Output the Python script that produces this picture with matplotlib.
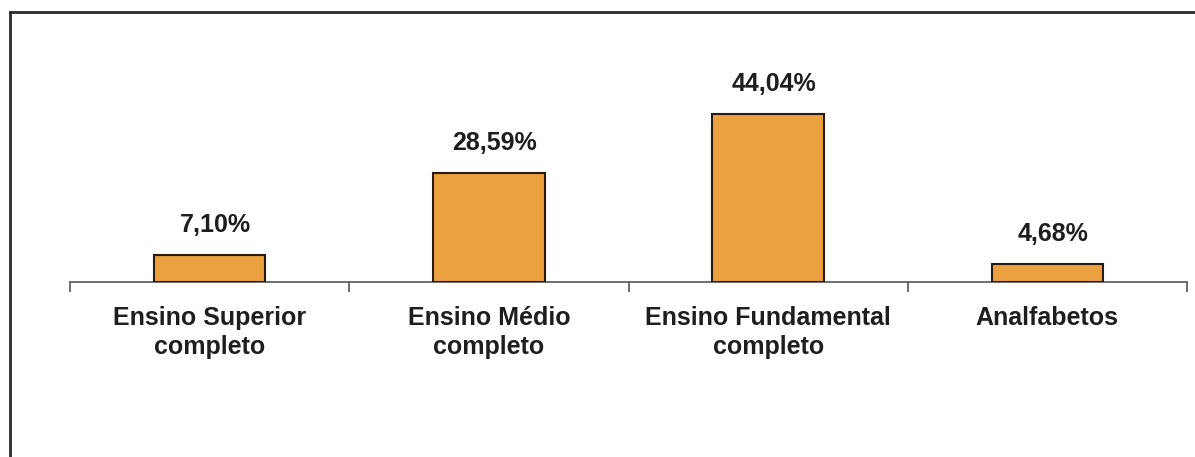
import matplotlib
matplotlib.use('Agg')
import matplotlib.pyplot as plt
from matplotlib.lines import Line2D

categories = ['Ensino Superior\ncompleto', 'Ensino Médio\ncompleto',
              'Ensino Fundamental\ncompleto', 'Analfabetos']
percentages = [7.10, 28.59, 44.04, 4.68]
value_labels = ['7,10%', '28,59%', '44,04%', '4,68%']

plt.rcParams['font.family'] = ['Liberation Sans', 'DejaVu Sans']

fig = plt.figure(figsize=(11.95, 4.57), dpi=100)
fig.patch.set_facecolor('white')

# outer chart frame (top and left edges)
frame_color = '#2b2b2b'
fig.add_artist(Line2D([10 / 1195, 1.0], [1 - 12 / 457, 1 - 12 / 457],
                      transform=fig.transFigure, color=frame_color, lw=2))
fig.add_artist(Line2D([10 / 1195, 10 / 1195], [0.0, 1 - 12 / 457],
                      transform=fig.transFigure, color=frame_color, lw=2))

ax = fig.add_axes([70 / 1195, (457 - 282) / 457, 1117 / 1195, 191 / 457])
x = range(len(categories))
ax.bar(x, percentages, width=0.40, color='#EBA13F', edgecolor='#2a1a10',
       linewidth=1.5, zorder=3)

for xi, val, lab in zip(x, percentages, value_labels):
    ax.annotate(lab, (xi, val), xytext=(4, 13), textcoords='offset points',
                ha='center', va='bottom', fontsize=18, fontweight='bold',
                color='#1e1e1e')

ax.set_xlim(-0.5, len(categories) - 0.5)
ax.set_ylim(0, 50)

for side in ['top', 'right', 'left']:
    ax.spines[side].set_visible(False)
ax.spines['bottom'].set_color('#555555')
ax.spines['bottom'].set_linewidth(1.2)
ax.set_yticks([])

# ticks on the category boundaries, labels centred under the bars
ax.set_xticks([b - 0.5 for b in range(len(categories) + 1)])
ax.set_xticklabels([])
ax.tick_params(axis='x', which='major', direction='out', length=7,
               width=1.2, color='#555555')
ax.set_xticks(list(x), minor=True)
ax.set_xticklabels(categories, minor=True, fontsize=18, fontweight='bold',
                   color='#1e1e1e', linespacing=1.28)
ax.tick_params(axis='x', which='minor', length=0, pad=17)

fig.savefig('out.png', dpi=100, facecolor='white')
